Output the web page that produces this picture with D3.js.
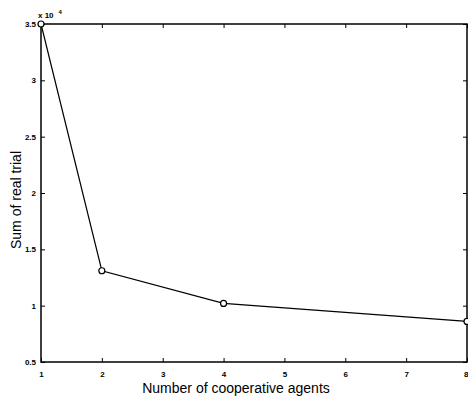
<!DOCTYPE html>
<html>
<head>
<meta charset="utf-8">
<script src="https://cdn.jsdelivr.net/npm/d3@7"></script>
<style>
  body { margin: 0; background: #fff; }
  text { font-family: "Liberation Sans", Arial, sans-serif; fill: #000; }
</style>
</head>
<body>
<script>
const agents = [1, 2, 4, 8];
const trials = [3.5, 1.31, 1.02, 0.86];   // x 10^4
const xTicks = [1, 2, 3, 4, 5, 6, 7, 8];
const yTicks = [0.5, 1, 1.5, 2, 2.5, 3, 3.5];

const width = 468,
    height = 400;

const margin = {left: 41, right: 1, top: 24, bottom: 38};

const svg = d3.select('body')
    .append('svg')
    .attr('width', width)
    .attr('height', height);

const x = d3.scaleLinear()
    .domain([1, 8])
    .range([margin.left, width - margin.right]);

const y = d3.scaleLinear()
    .domain([0.5, 3.5])
    .range([height - margin.bottom, margin.top]);

// box
svg.append('rect')
    .attr('x', x(1))
    .attr('y', y(3.5))
    .attr('width', x(8) - x(1))
    .attr('height', y(0.5) - y(3.5))
    .attr('fill', 'none')
    .attr('stroke', '#000')
    .attr('stroke-width', 1.5);

const fmt = d => String(d);

// bottom axis, inward ticks
svg.append('g')
    .attr('transform', 'translate(0,' + y(0.5) + ')')
    .call(d3.axisBottom(x).tickValues(xTicks).tickSize(-4).tickPadding(9).tickFormat(fmt))
    .call(g => g.select('.domain').remove())
    .call(g => g.selectAll('text').attr('font-size', 8).attr('font-weight', 'bold'))
    .call(g => g.selectAll('text').filter(d => d === 8).attr('text-anchor', 'end').attr('dx', 1));

// top axis ticks
svg.append('g')
    .attr('transform', 'translate(0,' + y(3.5) + ')')
    .call(d3.axisTop(x).tickValues(xTicks).tickSize(-4).tickFormat(''))
    .call(g => g.select('.domain').remove());

// left axis
svg.append('g')
    .attr('transform', 'translate(' + x(1) + ',0)')
    .call(d3.axisLeft(y).tickValues(yTicks).tickSize(-4).tickPadding(5).tickFormat(fmt))
    .call(g => g.select('.domain').remove())
    .call(g => g.selectAll('text').attr('font-size', 8).attr('font-weight', 'bold'));

// right axis ticks
svg.append('g')
    .attr('transform', 'translate(' + x(8) + ',0)')
    .call(d3.axisRight(y).tickValues(yTicks).tickSize(-4).tickFormat(''))
    .call(g => g.select('.domain').remove());

svg.selectAll('.tick line').attr('stroke', '#000');

// exponent
const ex = svg.append('text')
    .attr('x', 38)
    .attr('y', 18)
    .attr('font-size', 8)
    .attr('font-weight', 'bold')
    .text('x 10');
ex.append('tspan')
    .attr('dy', -4)
    .attr('dx', 5)
    .attr('font-size', 6)
    .text('4');

// line
const line = d3.line()
    .x((d, i) => x(agents[i]))
    .y(d => y(d));

svg.append('path')
    .datum(trials)
    .attr('d', line)
    .attr('fill', 'none')
    .attr('stroke', '#000')
    .attr('stroke-width', 1.2);

svg.append('g')
    .selectAll('circle')
    .data(trials)
    .enter().append('circle')
    .attr('cx', (d, i) => x(agents[i]))
    .attr('cy', d => y(d))
    .attr('r', 3)
    .attr('fill', '#fff')
    .attr('stroke', '#000')
    .attr('stroke-width', 1.2);

// labels
svg.append('text')
    .attr('x', 236)
    .attr('y', 393)
    .attr('text-anchor', 'middle')
    .attr('font-size', 14)
    .text('Number of cooperative agents');

svg.append('text')
    .attr('transform', 'translate(21,' + (y(2) + 7) + ') rotate(-90)')
    .attr('text-anchor', 'middle')
    .attr('font-size', 14)
    .text('Sum of real trial');
</script>
</body>
</html>
